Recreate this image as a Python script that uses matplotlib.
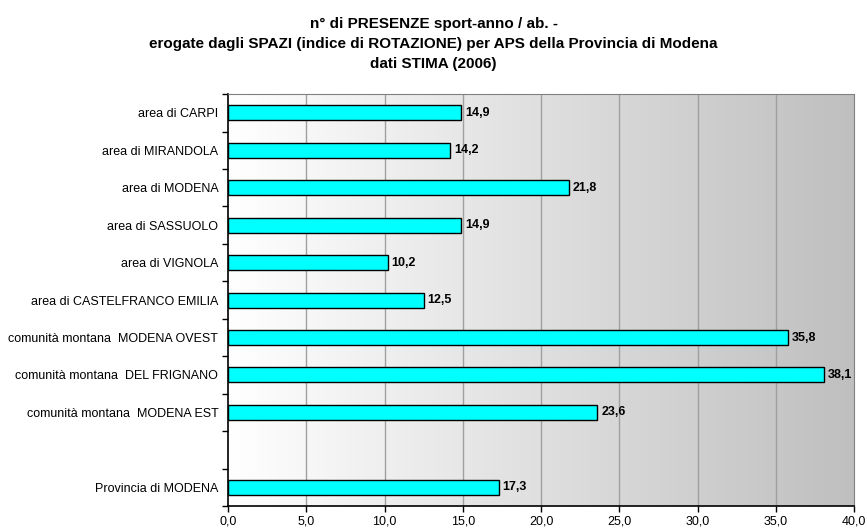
import numpy as np
import matplotlib.pyplot as plt
from matplotlib.colors import LinearSegmentedColormap

categories = ["area di CARPI", "area di MIRANDOLA", "area di MODENA", "area di SASSUOLO",
              "area di VIGNOLA", "area di CASTELFRANCO EMILIA",
              "comunità montana  MODENA OVEST", "comunità montana  DEL FRIGNANO",
              "comunità montana  MODENA EST", "", "Provincia di MODENA"]
values = [14.9, 14.2, 21.8, 14.9, 10.2, 12.5, 35.8, 38.1, 23.6, None, 17.3]
xticks = [0, 5, 10, 15, 20, 25, 30, 35, 40]

plt.rcParams["font.family"] = ["Liberation Sans", "DejaVu Sans"]

fig = plt.figure(figsize=(8.67, 5.29), dpi=100)
ax = fig.add_axes([0.263, 0.0435, 0.722, 0.7785])

n = len(categories)
ypos = np.arange(n)

# sfondo sfumato
cmap = LinearSegmentedColormap.from_list("grad", ["#ffffff", "#bfbfbf"])
grad = np.linspace(0, 1, 256).reshape(1, -1)
ax.imshow(grad, cmap=cmap, aspect="auto", extent=[0, 40, n - 0.5, -0.5], zorder=0)

for x in xticks[1:-1]:
    ax.axvline(x, color="#a0a0a0", linewidth=1, zorder=1)

for y, v in zip(ypos, values):
    if v is None:
        continue
    ax.barh(y, v, height=0.4, color="#00ffff", edgecolor="black", linewidth=1, zorder=3)
    ax.text(v + 0.25, y, f"{v:.1f}".replace(".", ","), va="center", ha="left",
            fontsize=9, fontweight="bold", zorder=4)

ax.set_xlim(0, 40)
ax.set_ylim(n - 0.5, -0.5)
ax.set_xticks(xticks)
ax.set_xticklabels([f"{x:.1f}".replace(".", ",") for x in xticks], fontsize=9)
ax.set_yticks(ypos)
ax.set_yticklabels(categories, fontsize=9)
ax.tick_params(axis="y", length=0, pad=7)
ax.set_yticks(np.arange(-0.5, n, 1), minor=True)
ax.tick_params(axis="y", which="minor", length=4, width=1)
ax.tick_params(axis="x", length=4, width=1, pad=3)

for s in ["top", "right"]:
    ax.spines[s].set_color("#808080")
for s in ["left", "bottom"]:
    ax.spines[s].set_color("black")
    ax.spines[s].set_linewidth(1.2)

fig.suptitle("n° di PRESENZE sport-anno / ab. -\n"
             "erogate dagli SPAZI (indice di ROTAZIONE) per APS della Provincia di Modena\n"
             "dati STIMA (2006)",
             y=0.968, fontsize=11, fontweight="bold", linespacing=1.55)

plt.savefig("out.png", dpi=100)
